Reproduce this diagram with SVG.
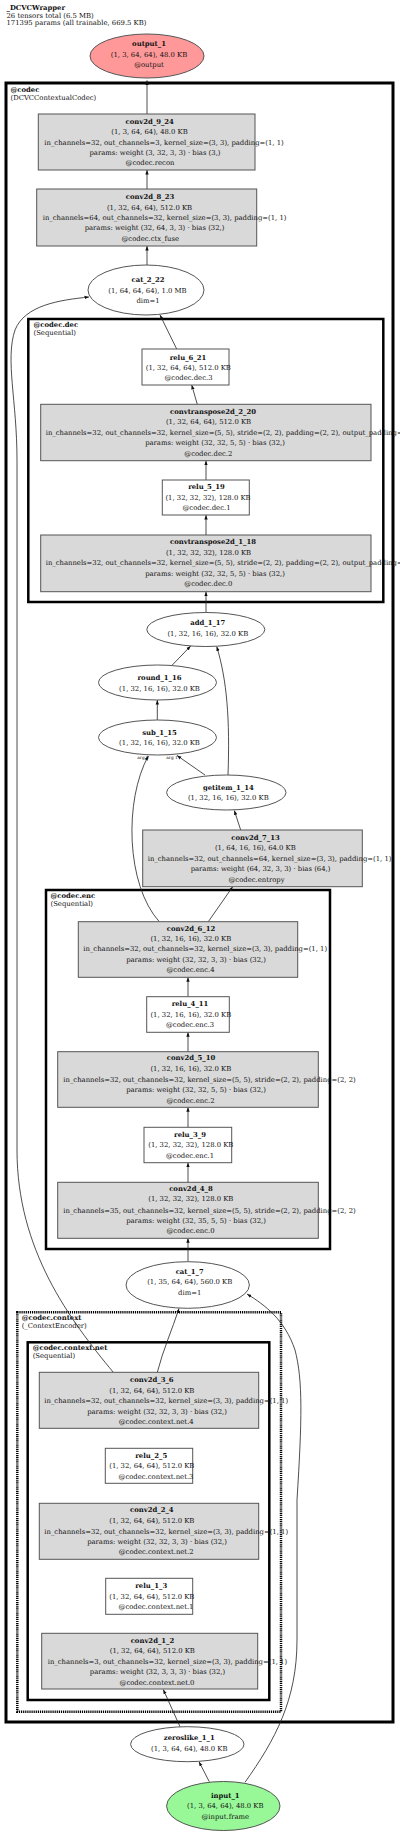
<svg xmlns="http://www.w3.org/2000/svg" width="400" height="1834" viewBox="0 0 400 1834">
<defs>
<style>
text{font-family:"DejaVu Serif","Liberation Serif",serif;font-size:6.85px;fill:#111}
.b{font-weight:bold}
.m{text-anchor:middle}
.cl{fill:none;stroke:#000;stroke-width:2.5}
.op{fill:#ffffff;stroke:#555;stroke-width:1}
.cv{fill:#d9d9d9;stroke:#555;stroke-width:1}
.e{fill:none;stroke:#222;stroke-width:0.8;marker-end:url(#ah)}
.lab{font-size:4.3px}
</style>
<marker id="ah" markerWidth="5" markerHeight="4" refX="4.5" refY="2" orient="auto" markerUnits="userSpaceOnUse"><path d="M0,0.3 L4.5,2 L0,3.7 z" fill="#111"/></marker>
</defs>
<rect width="400" height="1834" fill="#fff"/>
<g id="header">
<text class="b" x="6.5" y="9.5">_DCVCWrapper</text>
<text x="6.5" y="17.5">26 tensors total (6.5 MB)</text>
<text x="6.5" y="25">171395 params (all trainable, 669.5 KB)</text>
</g>
<g id="clusters">
<g id="cluster_codec"><rect x="6" y="83" width="387" height="1639" fill="none" stroke="#000" stroke-width="3"/>
<text class="b" x="10.5" y="91.5">@codec</text><text x="10.5" y="99.5">(DCVCContextualCodec)</text></g>
<g id="cluster_codec_dec"><rect class="cl" x="28.3" y="319" width="355" height="283"/>
<text class="b" x="33.5" y="326.5">@codec.dec</text><text x="33.5" y="334.5">(Sequential)</text></g>
<g id="cluster_codec_enc"><rect class="cl" x="46" y="890" width="284" height="359"/>
<text class="b" x="50.5" y="898.2">@codec.enc</text><text x="50.5" y="905.8">(Sequential)</text></g>
<g id="cluster_codec_context"><rect x="17.3" y="1312.3" width="263.7" height="399.4" fill="none" stroke="#000" stroke-width="2.5" stroke-dasharray="1.2,0.9"/>
<text class="b" x="21.7" y="1319.8">@codec.context</text><text x="21.7" y="1327.5">(_ContextEncoder)</text></g>
<g id="cluster_codec_context_net"><rect class="cl" x="27.7" y="1342.3" width="241.6" height="357.7"/>
<text class="b" x="32.7" y="1349.8">@codec.context.net</text><text x="32.7" y="1357.5">(Sequential)</text></g>
</g>
<g id="edges">
<path class="e" d="M147,114 L147,80.5"/>
<path class="e" d="M147,189 L147,170"/>
<path class="e" d="M147,265 L147,246"/>
<path class="e" d="M176.7,349 L160,315"/>
<path class="e" d="M197.3,404.3 L191.7,385"/>
<path class="e" d="M206,480 L206,460.7"/>
<path class="e" d="M206,535 L206,515"/>
<path class="e" d="M206,612.5 L206,591.7"/>
<path class="e" d="M172.3,665 L190.7,646"/>
<path class="e" d="M228,775 C230,720 227,680 216.7,646.5"/>
<path class="e" d="M157.3,720 L157.3,700"/>
<path class="e" d="M205,775 L177,755.5"/>
<path class="e" d="M159.3,921.7 C126,885 124,800 148.3,756"/>
<path class="e" d="M208.3,921.7 L232.7,886.7"/>
<path class="e" d="M240.7,830 L234.3,810.5"/>
<path class="e" d="M188,996.7 L188,977.3"/>
<path class="e" d="M188,1051.7 L188,1032.3"/>
<path class="e" d="M188,1127.3 L188,1107.3"/>
<path class="e" d="M188,1182.3 L188,1162.7"/>
<path class="e" d="M188,1261.7 L188,1238.3"/>
<path class="e" d="M157.3,1372.3 C163,1350 172,1330 179,1308.5"/>
<path class="e" d="M113.3,1372.3 C70,1320 17,1250 17,1150 L17,460 C17,400 5,360 15,330 C25,305 60,300 89,297"/>
<path class="e" d="M180,1726.7 L163.3,1689.5"/>
<path class="e" d="M209.3,1781.7 L199,1761.7"/>
<path class="e" d="M245,1782.3 C275,1740 297,1700 297,1640 L297,1500 C302,1420 303,1380 295,1350 C285,1320 265,1305 247,1294"/>
<text class="lab m" x="143" y="758.5">arg 0</text>
<text class="lab m" x="172" y="758.5">arg 1</text>
</g>
<g id="output_1"><ellipse cx="147" cy="56" rx="57" ry="22" fill="#ff9999" stroke="#555"/>
<text class="b m" x="149" y="45.5">output_1</text><text class="m" x="149" y="56.5">(1, 3, 64, 64), 48.0 KB</text><text class="m" x="149" y="66.5">@output</text></g>
<g id="conv2d_9_24"><rect class="cv" x="38.3" y="114" width="216.7" height="56"/>
<text class="b m" x="149.7" y="123.7">conv2d_9_24</text><text class="m" x="149.5" y="134.1">(1, 3, 64, 64), 48.0 KB</text>
<text x="44.3" y="144.5">in_channels=32, out_channels=3, kernel_size=(3, 3), padding=(1, 1)</text>
<text class="m" x="155" y="154.9">params: weight (3, 32, 3, 3) · bias (3,)</text><text class="m" x="150" y="165.3">@codec.recon</text></g>
<g id="conv2d_8_23"><rect class="cv" x="36.7" y="189" width="220" height="57"/>
<text class="b m" x="150" y="199.2">conv2d_8_23</text><text class="m" x="149.5" y="209.6">(1, 32, 64, 64), 512.0 KB</text>
<text x="42.7" y="220">in_channels=64, out_channels=32, kernel_size=(3, 3), padding=(1, 1)</text>
<text class="m" x="154.5" y="230.4">params: weight (32, 64, 3, 3) · bias (32,)</text><text class="m" x="150.3" y="240.8">@codec.ctx_fuse</text></g>
<g id="cat_2_22"><ellipse class="op" cx="146" cy="290" rx="58" ry="25"/>
<text class="b m" x="148" y="281.5">cat_2_22</text><text class="m" x="147.5" y="292.5">(1, 64, 64, 64), 1.0 MB</text><text class="m" x="148" y="302.5">dim=1</text></g>
<g id="relu_6_21"><rect class="op" x="142" y="349" width="87" height="36"/>
<text class="b m" x="188" y="359.5">relu_6_21</text><text class="m" x="188.3" y="369.5">(1, 32, 64, 64), 512.0 KB</text><text class="m" x="188.5" y="380">@codec.dec.3</text></g>
<g id="convtranspose2d_2_20"><rect class="cv" x="40.7" y="404.3" width="330.3" height="56.4"/>
<text class="b m" x="213" y="413.6">convtranspose2d_2_20</text><text class="m" x="208.5" y="424">(1, 32, 64, 64), 512.0 KB</text>
<text x="45.7" y="434.8">in_channels=32, out_channels=32, kernel_size=(5, 5), stride=(2, 2), padding=(2, 2), output_padding=</text>
<text class="m" x="215" y="445.2">params: weight (32, 32, 5, 5) · bias (32,)</text><text class="m" x="208.3" y="455.6">@codec.dec.2</text></g>
<g id="relu_5_19"><rect class="op" x="162.3" y="480" width="87" height="35"/>
<text class="b m" x="206.5" y="489.2">relu_5_19</text><text class="m" x="208" y="499.7">(1, 32, 32, 32), 128.0 KB</text><text class="m" x="206.5" y="510.2">@codec.dec.1</text></g>
<g id="convtranspose2d_1_18"><rect class="cv" x="40.7" y="535" width="330.3" height="56.7"/>
<text class="b m" x="213" y="544.3">convtranspose2d_1_18</text><text class="m" x="208.5" y="554.7">(1, 32, 32, 32), 128.0 KB</text>
<text x="45.7" y="565.4">in_channels=32, out_channels=32, kernel_size=(5, 5), stride=(2, 2), padding=(2, 2), output_padding=</text>
<text class="m" x="215" y="575.8">params: weight (32, 32, 5, 5) · bias (32,)</text><text class="m" x="208.3" y="586.4">@codec.dec.0</text></g>
<g id="add_1_17"><ellipse class="op" cx="205.8" cy="629.5" rx="59" ry="17"/>
<text class="b m" x="207.8" y="625.2">add_1_17</text><text class="m" x="207.8" y="635.8">(1, 32, 16, 16), 32.0 KB</text></g>
<g id="round_1_16"><ellipse class="op" cx="157.5" cy="682.5" rx="59" ry="17.5"/>
<text class="b m" x="159.5" y="679.8">round_1_16</text><text class="m" x="159.5" y="690.8">(1, 32, 16, 16), 32.0 KB</text></g>
<g id="sub_1_15"><ellipse class="op" cx="157.5" cy="737.5" rx="59" ry="17.5"/>
<text class="b m" x="159.5" y="734.8">sub_1_15</text><text class="m" x="159.5" y="745.2">(1, 32, 16, 16), 32.0 KB</text></g>
<g id="getitem_1_14"><ellipse class="op" cx="226.3" cy="792.5" rx="59.7" ry="17.5"/>
<text class="b m" x="228.3" y="789.8">getitem_1_14</text><text class="m" x="228.3" y="800.2">(1, 32, 16, 16), 32.0 KB</text></g>
<g id="conv2d_7_13"><rect class="cv" x="142.7" y="830" width="219.6" height="56.7"/>
<text class="b m" x="255.5" y="839.8">conv2d_7_13</text><text class="m" x="255.3" y="850.2">(1, 64, 16, 16), 64.0 KB</text>
<text x="147.7" y="860.8">in_channels=32, out_channels=64, kernel_size=(3, 3), padding=(1, 1)</text>
<text class="m" x="260.5" y="871.2">params: weight (64, 32, 3, 3) · bias (64,)</text><text class="m" x="256.5" y="881.6">@codec.entropy</text></g>
<g id="conv2d_6_12"><rect class="cv" x="78.3" y="921.7" width="219.4" height="55.6"/>
<text class="b m" x="191" y="930.6">conv2d_6_12</text><text class="m" x="190.8" y="941">(1, 32, 16, 16), 32.0 KB</text>
<text x="83.3" y="951.2">in_channels=32, out_channels=32, kernel_size=(3, 3), padding=(1, 1)</text>
<text class="m" x="196" y="961.6">params: weight (32, 32, 3, 3) · bias (32,)</text><text class="m" x="190.5" y="972">@codec.enc.4</text></g>
<g id="relu_4_11"><rect class="op" x="146.7" y="996.7" width="82.6" height="35.6"/>
<text class="b m" x="190" y="1006">relu_4_11</text><text class="m" x="190.8" y="1016.6">(1, 32, 16, 16), 32.0 KB</text><text class="m" x="190" y="1027.2">@codec.enc.3</text></g>
<g id="conv2d_5_10"><rect class="cv" x="57.7" y="1051.7" width="260.6" height="55.6"/>
<text class="b m" x="191" y="1060">conv2d_5_10</text><text class="m" x="190.8" y="1070.6">(1, 32, 16, 16), 32.0 KB</text>
<text x="63.3" y="1081.8">in_channels=32, out_channels=32, kernel_size=(5, 5), stride=(2, 2), padding=(2, 2)</text>
<text class="m" x="196" y="1092">params: weight (32, 32, 5, 5) · bias (32,)</text><text class="m" x="190.5" y="1102.5">@codec.enc.2</text></g>
<g id="relu_3_9"><rect class="op" x="144" y="1127.3" width="87.7" height="35.4"/>
<text class="b m" x="190" y="1136.6">relu_3_9</text><text class="m" x="190.8" y="1146.9">(1, 32, 32, 32), 128.0 KB</text><text class="m" x="190" y="1157.5">@codec.enc.1</text></g>
<g id="conv2d_4_8"><rect class="cv" x="57.7" y="1182.3" width="260.6" height="56"/>
<text class="b m" x="191" y="1190.8">conv2d_4_8</text><text class="m" x="190.8" y="1201">(1, 32, 32, 32), 128.0 KB</text>
<text x="63.3" y="1212.5">in_channels=35, out_channels=32, kernel_size=(5, 5), stride=(2, 2), padding=(2, 2)</text>
<text class="m" x="196" y="1222.5">params: weight (32, 35, 5, 5) · bias (32,)</text><text class="m" x="190.5" y="1232.7">@codec.enc.0</text></g>
<g id="cat_1_7"><ellipse class="op" cx="187.7" cy="1285" rx="61.7" ry="23.3"/>
<text class="b m" x="189.7" y="1274.2">cat_1_7</text><text class="m" x="189.7" y="1284.2">(1, 35, 64, 64), 560.0 KB</text><text class="m" x="189.7" y="1294.8">dim=1</text></g>
<g id="conv2d_3_6"><rect class="cv" x="39.3" y="1372.3" width="219.4" height="56"/>
<text class="b m" x="151.8" y="1381.8">conv2d_3_6</text><text class="m" x="151.8" y="1392.5">(1, 32, 64, 64), 512.0 KB</text>
<text x="44.3" y="1403.2">in_channels=32, out_channels=32, kernel_size=(3, 3), padding=(1, 1)</text>
<text class="m" x="157" y="1413.5">params: weight (32, 32, 3, 3) · bias (32,)</text><text class="m" x="156.2" y="1423.5">@codec.context.net.4</text></g>
<g id="relu_2_5"><rect class="op" x="105.3" y="1448.3" width="87.4" height="35"/>
<text class="b m" x="151.2" y="1457.5">relu_2_5</text><text class="m" x="151.8" y="1468.2">(1, 32, 64, 64), 512.0 KB</text><text class="m" x="156" y="1478.5">@codec.context.net.3</text></g>
<g id="conv2d_2_4"><rect class="cv" x="39.3" y="1503.3" width="219.4" height="56"/>
<text class="b m" x="151.8" y="1511.8">conv2d_2_4</text><text class="m" x="151.8" y="1523.2">(1, 32, 64, 64), 512.0 KB</text>
<text x="44.3" y="1533.5">in_channels=32, out_channels=32, kernel_size=(3, 3), padding=(1, 1)</text>
<text class="m" x="157" y="1544.2">params: weight (32, 32, 3, 3) · bias (32,)</text><text class="m" x="156.2" y="1554.2">@codec.context.net.2</text></g>
<g id="relu_1_3"><rect class="op" x="105.7" y="1578.3" width="87" height="36"/>
<text class="b m" x="151.2" y="1587.5">relu_1_3</text><text class="m" x="151.8" y="1598.5">(1, 32, 64, 64), 512.0 KB</text><text class="m" x="156" y="1609.2">@codec.context.net.1</text></g>
<g id="conv2d_1_2"><rect class="cv" x="41.7" y="1633.3" width="216" height="55.7"/>
<text class="b m" x="152.5" y="1642.5">conv2d_1_2</text><text class="m" x="152.3" y="1653.2">(1, 32, 64, 64), 512.0 KB</text>
<text x="47.7" y="1664.2">in_channels=3, out_channels=32, kernel_size=(3, 3), padding=(1, 1)</text>
<text class="m" x="157.5" y="1674.2">params: weight (32, 3, 3, 3) · bias (32,)</text><text class="m" x="157" y="1684.8">@codec.context.net.0</text></g>
<g id="zeroslike_1_1"><ellipse class="op" cx="187.3" cy="1744.2" rx="56.7" ry="17.5"/>
<text class="b m" x="189.3" y="1740.2">zeroslike_1_1</text><text class="m" x="189.3" y="1750.8">(1, 3, 64, 64), 48.0 KB</text></g>
<g id="input_1"><ellipse cx="223.3" cy="1806" rx="56.7" ry="24.5" fill="#98f898" stroke="#555"/>
<text class="b m" x="225.3" y="1797.5">input_1</text><text class="m" x="225.3" y="1808.2">(1, 3, 64, 64), 48.0 KB</text><text class="m" x="225.3" y="1819.2">@input.frame</text></g>
</svg>
